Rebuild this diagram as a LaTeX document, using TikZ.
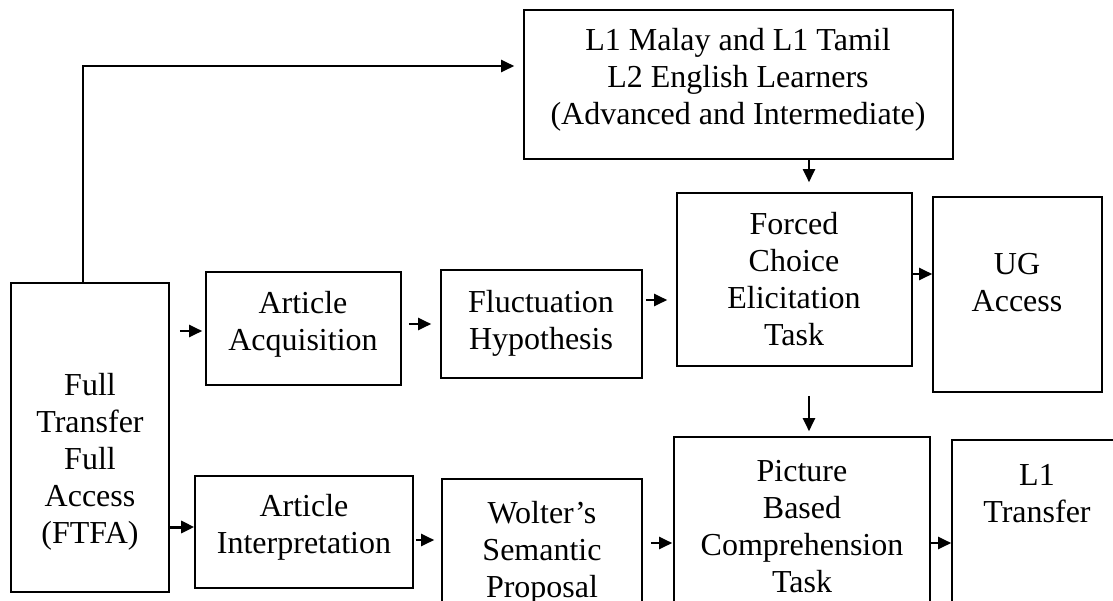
\documentclass[tikz,border=0pt]{standalone}
\usepackage{fontspec}
\setmainfont{Liberation Serif}
\usetikzlibrary{arrows.meta}

\begin{document}
\begin{tikzpicture}
[x=1pt,y=-1pt,
 boxdecorate/.style={shape=rectangle,inner sep=0pt,draw,line width=1.6pt},%
 textdecorate/.style={align=center,inner sep=0pt,font=\fontsize{32}{37}\selectfont},%
 arrowdecorate/.style={-{Triangle[length=13pt,width=12pt]},line width=2pt}]
\useasboundingbox (0,0) rectangle (1113,600);
\clip (0,0) rectangle (1113,600);
%% boxes
\foreach \nodename/\x/\y/\w/\h in {top/738.5/84.5/429/149,
  ftfa/90/437.5/158/309, aa/303.5/328.5/195/113, fluct/541.5/324/201/108,
  forced/794.5/279.5/235/173, ug/1017.5/294.5/169/195,
  ai/304/532/218/112, wolter/542/544.5/200/131,
  picture/802/528.5/256/183, lone/1037/530/170/180}
{
  \node (\nodename) at (\x,\y) [boxdecorate,minimum width=\w pt,minimum height=\h pt] {};
}
%% texts
\foreach \nodename/\x/\y/\txt in {
  top/738/80/L1 Malay and L1 Tamil\\L2 English Learners\\(Advanced and Intermediate),
  ftfa/90/462/Full\\Transfer\\Full\\Access\\(FTFA),
  aa/303/324/Article\\Acquisition, fluct/541/323/Fluctuation\\Hypothesis,
  forced/794/279/Forced\\Choice\\Elicitation\\Task, ug/1017/283/UG\\Access,
  ai/304/527/Article\\Interpretation, wolter/542/553/Wolter's\\Semantic\\Proposal,
  picture/802/527/Picture\\Based\\Comprehension\\Task, lone/1037/494/L1\\Transfer}
{
  \node (\nodename-text) at (\x,\y) [textdecorate] {\txt};
}
%% arrows
\draw[arrowdecorate,line width=2.4pt,shorten >=9pt] (ftfa.north -| 83,0) |- (top.west |- 0,66);
\draw[arrowdecorate,shorten >=10pt] (top.south -| 809,0) -- (forced.north -| 809,0);
\draw[arrowdecorate,shorten <=29pt,shorten >=5pt] (forced.south -| 809,0) -- (picture.north -| 809,0);
\draw[arrowdecorate,shorten <=10pt,shorten >=3pt] (ftfa.east |- 0,331) -- (aa.west |- 0,331);
\draw[arrowdecorate,shorten <=7pt,shorten >=9pt] (aa.east |- 0,324) -- (fluct.west |- 0,324);
\draw[arrowdecorate,shorten <=3pt,shorten >=9pt] (fluct.east |- 0,300) -- (forced.west |- 0,300);
\draw[arrowdecorate] (forced.east |- 0,274) -- (ug.west |- 0,274);
\draw[arrowdecorate,line width=3pt] (ftfa.east |- 0,527) -- (ai.west |- 0,527);
\draw[arrowdecorate,shorten <=2pt,shorten >=7pt] (ai.east |- 0,540) -- (wolter.west |- 0,540);
\draw[arrowdecorate,shorten <=8pt,shorten >=1pt] (wolter.east |- 0,543) -- (picture.west |- 0,543);
\draw[arrowdecorate] (picture.east |- 0,543) -- (lone.west |- 0,543);
\end{tikzpicture}
\end{document}
